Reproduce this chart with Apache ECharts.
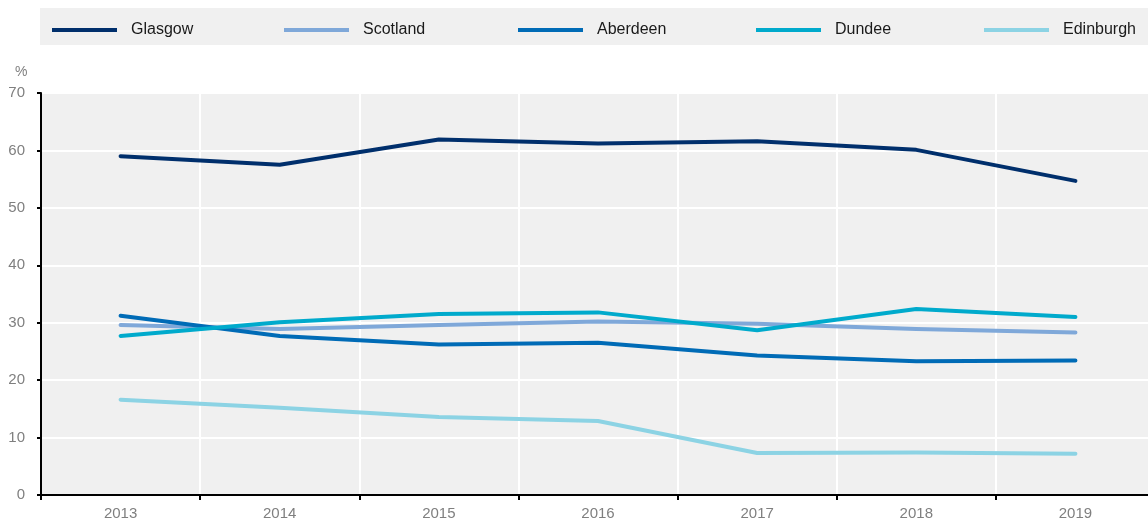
<!DOCTYPE html>
<html>
<head>
<meta charset="utf-8">
<script src="https://cdn.jsdelivr.net/npm/echarts@6/dist/echarts.min.js"></script>
<style>
  html, body { margin: 0; padding: 0; background: #fff; overflow: hidden; }
  #chart { width: 1160px; height: 521px; }
</style>
</head>
<body>
<div id="chart"></div>
<script>
// Share of pupils (%) by area, 2013-2019
const years = ['2013', '2014', '2015', '2016', '2017', '2018', '2019'];
const glasgow   = [59.0, 57.5, 61.9, 61.2, 61.6, 60.1, 54.7];
const scotland  = [29.6, 28.9, 29.6, 30.2, 29.8, 28.9, 28.3];
const aberdeen  = [31.2, 27.7, 26.2, 26.5, 24.3, 23.3, 23.4];
const dundee    = [27.7, 30.1, 31.5, 31.8, 28.7, 32.4, 31.0];
const edinburgh = [16.6, 15.2, 13.6, 12.9, 7.3, 7.4, 7.2];

const seriesNames = ['Glasgow', 'Scotland', 'Aberdeen', 'Dundee', 'Edinburgh'];
const seriesData = [glasgow, scotland, aberdeen, dundee, edinburgh];
const colors = ['#002F6C', '#7FA8D9', '#006BB6', '#00AACC', '#8CD3E4'];
const legendLeft = [52, 284, 518, 756, 984];

const FONT = '"Liberation Sans", Arial, sans-serif';

const chart = echarts.init(document.getElementById('chart'), null, { renderer: 'canvas' });

// one legend per series so each entry sits at its own fixed column
const legends = seriesNames.map((name, i) => ({
  show: true,
  data: [name],
  left: legendLeft[i],
  top: 22,
  padding: 0,
  icon: 'rect',
  itemWidth: 65,
  itemHeight: 4,
  textStyle: {
    fontFamily: FONT,
    fontSize: 16,
    color: '#1a1a1a',
    padding: [0, 0, 0, 9]
  },
  selectedMode: false
}));

const option = {
  animation: false,
  color: colors,
  graphic: [
    {
      type: 'rect',
      left: 40, top: 8,
      shape: { width: 1120, height: 37 },
      style: { fill: '#f0f0f0' },
      z: -10
    },
    {
      type: 'text',
      left: 15, top: 65,
      style: { text: '%', fontFamily: FONT, fontSize: 14, fill: '#7f7f7f' }
    }
  ],
  legend: legends,
  grid: {
    left: 41, top: 93, width: 1114, height: 404,
    show: true, backgroundColor: '#f0f0f0', borderWidth: 0
  },
  xAxis: {
    type: 'category',
    data: years,
    boundaryGap: true,
    axisLine: { show: true, lineStyle: { color: '#000', width: 2 } },
    axisTick: { show: true, length: 5, lineStyle: { color: '#000', width: 2 } },
    axisLabel: { fontFamily: FONT, fontSize: 15, color: '#7f7f7f', margin: 11 },
    splitLine: { show: true, lineStyle: { color: '#fff', width: 2 } }
  },
  yAxis: {
    type: 'value',
    min: 0, max: 70, interval: 10,
    axisLine: { show: true, lineStyle: { color: '#000', width: 2 } },
    axisTick: { show: true, length: 4, lineStyle: { color: '#000', width: 2 } },
    axisLabel: { fontFamily: FONT, fontSize: 15, color: '#7f7f7f', margin: 16 },
    splitLine: { show: true, lineStyle: { color: '#fff', width: 2 } }
  },
  series: seriesNames.map((name, i) => ({
    name: name,
    type: 'line',
    data: seriesData[i],
    symbol: 'none',
    lineStyle: { width: 4, color: colors[i], cap: 'round', join: 'round' },
    itemStyle: { color: colors[i] }
  }))
};

chart.setOption(option);
</script>
</body>
</html>
